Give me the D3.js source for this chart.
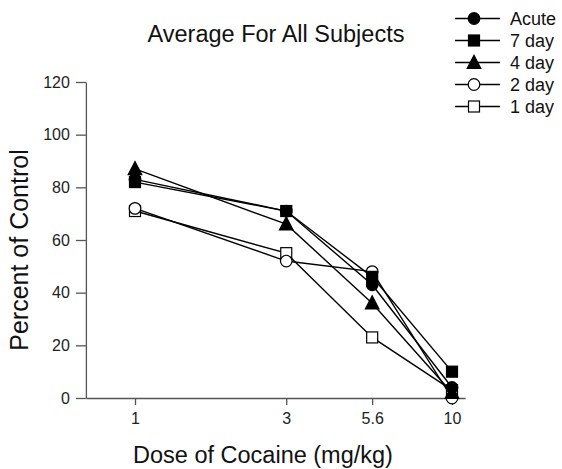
<!DOCTYPE html>
<html>
<head>
<meta charset="utf-8">
<script src="https://cdn.jsdelivr.net/npm/d3@7/dist/d3.min.js"></script>
<style>
  body { margin: 0; background: #fff; }
  svg { display: block; font-family: "Liberation Sans", Arial, sans-serif; }
</style>
</head>
<body>
<svg id="chart" width="562" height="469"></svg>
<script>
// Cocaine dose-response, percent of control, per withdrawal group
const doses = [1, 3, 5.6, 10];
const doseTicks = ["1", "3", "5.6", "10"];
const yTicks = [0, 20, 40, 60, 80, 100, 120];

const seriesNames = ["Acute", "7 day", "4 day", "2 day", "1 day"];
const acute   = [83, 71, 43, 4];
const day7    = [82, 71, 46, 10];
const day4    = [87, 66, 36, 2];
const day2    = [72, 52, 48, 0];
const day1    = [71, 55, 23, 3];
const seriesValues = [acute, day7, day4, day2, day1];
const markerShapes = ["circle", "square", "triangle", "circle", "square"];
const markerFilled = [true, true, true, false, false];

const svg = d3.select("#chart");
const FONT = "Liberation Sans, Arial, sans-serif";

// log dose axis: 1 -> 135px, 10 -> 452px, padded on both sides
const decade = 317;
const x = d3.scaleLog().domain([0.7, 11])
  .range([135 - Math.log10(1 / 0.7) * decade, 135 + Math.log10(11) * decade]);
const y = d3.scaleLinear().domain([0, 120]).range([398, 82]);

const axisColor = "#555";

// Y axis
const yAxis = svg.append("g")
  .attr("transform", `translate(${x.range()[0]},0)`)
  .call(d3.axisLeft(y).tickValues(yTicks).tickSize(10).tickPadding(6).tickSizeOuter(0));
yAxis.select(".domain").attr("stroke", axisColor).attr("stroke-width", 1.3);
yAxis.selectAll(".tick line").attr("stroke", axisColor).attr("stroke-width", 1.3);
yAxis.selectAll("text").style("font-size", "16px").attr("fill", "#222").style("font-family", FONT);

// X axis
const xAxis = svg.append("g")
  .attr("transform", `translate(0,${y(0)})`)
  .call(d3.axisBottom(x).tickValues(doses).tickFormat((d, i) => doseTicks[i])
    .tickSize(7).tickPadding(8).tickSizeOuter(0));
xAxis.select(".domain").attr("stroke", axisColor).attr("stroke-width", 1.3);
xAxis.selectAll(".tick line").attr("stroke", axisColor).attr("stroke-width", 1.3);
xAxis.selectAll("text").style("font-size", "16px").attr("fill", "#222").style("font-family", FONT);

// Titles
svg.append("text").attr("x", 276).attr("y", 42).attr("text-anchor", "middle")
  .attr("font-size", 23.5).attr("fill", "#111").text("Average For All Subjects");
svg.append("text").attr("x", 263).attr("y", 463).attr("text-anchor", "middle")
  .attr("font-size", 23.5).attr("fill", "#111").text("Dose of Cocaine (mg/kg)");
svg.append("text").attr("transform", "translate(28,250) rotate(-90)")
  .attr("text-anchor", "middle").attr("font-size", 25).attr("fill", "#111")
  .text("Percent of Control");

// Marker drawing
function drawMarker(g, shape, filled, cx, cy) {
  const fill = filled ? "#000" : "#fff";
  if (shape === "circle") {
    g.append("circle").attr("cx", cx).attr("cy", cy).attr("r", 5.8)
      .attr("fill", fill).attr("stroke", "#000").attr("stroke-width", 1.2);
  } else if (shape === "square") {
    g.append("rect").attr("x", cx - 5.5).attr("y", cy - 5.5).attr("width", 11).attr("height", 11)
      .attr("fill", fill).attr("stroke", "#000").attr("stroke-width", 1.2);
  } else {
    const s = 6.8;
    g.append("path")
      .attr("d", `M${cx},${cy - s - 0.5}L${cx + s},${cy + s * 0.85}L${cx - s},${cy + s * 0.85}Z`)
      .attr("fill", fill).attr("stroke", "#000").attr("stroke-width", 1.2);
  }
}

const line = d3.line().x((d, i) => x(doses[i])).y(d => y(d));
const plot = svg.append("g");

// Lines first, then markers on top (reverse order so Acute sits on top)
for (let k = seriesValues.length - 1; k >= 0; k--) {
  plot.append("path").attr("d", line(seriesValues[k]))
    .attr("fill", "none").attr("stroke", "#000").attr("stroke-width", 1.4);
}
for (let k = seriesValues.length - 1; k >= 0; k--) {
  seriesValues[k].forEach((v, i) => drawMarker(plot, markerShapes[k], markerFilled[k], x(doses[i]), y(v)));
}

// Legend
const legend = svg.append("g");
seriesNames.forEach((name, k) => {
  const ly = 18.5 + k * 22;
  legend.append("line").attr("x1", 455).attr("x2", 500).attr("y1", ly).attr("y2", ly)
    .attr("stroke", "#000").attr("stroke-width", 1.4);
  drawMarker(legend, markerShapes[k], markerFilled[k], 474, ly);
  legend.append("text").attr("x", 510).attr("y", ly + 6.5).attr("font-size", 18)
    .attr("fill", "#111").text(name);
});
</script>
</body>
</html>
